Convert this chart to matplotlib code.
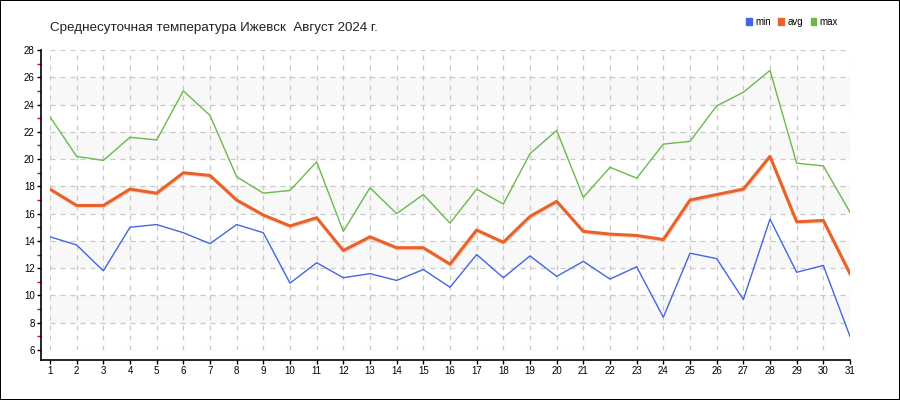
import matplotlib.pyplot as plt
from matplotlib.patches import Patch
import matplotlib.patheffects as pe

days = list(range(1, 32))
t_min = [14.3, 13.7, 11.8, 15.0, 15.2, 14.6, 13.8, 15.2, 14.6, 10.9,
         12.4, 11.3, 11.6, 11.1, 11.9, 10.6, 13.0, 11.3, 12.9, 11.4,
         12.5, 11.2, 12.1, 8.4, 13.1, 12.7, 9.7, 15.6, 11.7, 12.2, 7.0]
t_avg = [17.8, 16.6, 16.6, 17.8, 17.5, 19.0, 18.8, 17.0, 15.9, 15.1,
         15.7, 13.3, 14.3, 13.5, 13.5, 12.3, 14.8, 13.9, 15.8, 16.9,
         14.7, 14.5, 14.4, 14.1, 17.0, 17.4, 17.8, 20.2, 15.4, 15.5, 11.6]
t_max = [23.1, 20.2, 19.9, 21.6, 21.4, 25.0, 23.2, 18.7, 17.5, 17.7,
         19.8, 14.7, 17.9, 16.0, 17.4, 15.3, 17.8, 16.7, 20.4, 22.1,
         17.2, 19.4, 18.6, 21.1, 21.3, 23.9, 24.9, 26.5, 19.7, 19.5, 16.1]
y_ticks = list(range(6, 29, 2))
bands = [(8, 10), (12, 14), (16, 18), (20, 22), (24, 26)]

title = 'Среднесуточная температура Ижевск  Август 2024 г.'
c_min, c_avg, c_max = '#4466e0', '#e8622a', '#6cb94a'

plt.rcParams['font.family'] = ['Liberation Sans', 'DejaVu Sans']

fig = plt.figure(figsize=(9, 4), dpi=100)
fig.patch.set_edgecolor('black')
fig.patch.set_linewidth(1.2)
ax = fig.add_axes([50 / 900, 50 / 400, 800 / 900, 300 / 400])

for lo, hi in bands:
    ax.axhspan(lo, hi, color='#f8f8f8', zorder=0, lw=0)

ax.plot(days, t_max, color=c_max, lw=1, zorder=3)
ax.plot(days, t_avg, color=c_avg, lw=2.2, zorder=4,
        path_effects=[pe.SimpleLineShadow(offset=(0.5, -0.8), shadow_color='#f3b9a0', alpha=0.6),
                      pe.Normal()])
ax.plot(days, t_min, color=c_min, lw=1, zorder=3)

ax.set_xlim(1, 31)
ax.set_ylim(6, 28)
ax.set_xticks(days)
ax.set_yticks(y_ticks)
ax.set_yticks(list(range(7, 28, 2)), minor=True)
ax.grid(True, color='#c8c8c8', linestyle=(0, (4, 4)), lw=0.9)
ax.set_axisbelow(True)

for s in ['top', 'right']:
    ax.spines[s].set_visible(False)
ax.spines['left'].set_position(('outward', 6.5))
ax.spines['bottom'].set_position(('outward', 7.2))
ax.spines['left'].set_bounds(5.27, 28)
ax.spines['bottom'].set_bounds(0.66, 31)
ax.spines['left'].set_linewidth(1.2)
ax.spines['bottom'].set_linewidth(1.2)

ax.tick_params(axis='both', which='major', direction='out', length=3, width=1,
               labelsize=7, pad=1.5, color='black')
ax.tick_params(axis='y', which='minor', direction='out', length=3, width=1, color='#e00000')

fig.text(50 / 900, 1 - 28 / 400, title, fontsize=9.6, color='#222222', va='center')

handles = [Patch(color=c_min, label='min'), Patch(color=c_avg, label='avg'),
           Patch(color=c_max, label='max')]
fig.legend(handles=handles, loc='center', bbox_to_anchor=(792 / 900, 1 - 22 / 400),
           ncol=3, frameon=False, fontsize=7, handlelength=0.6, handleheight=0.6,
           handletextpad=0.3, columnspacing=0.8)

fig.savefig('out.png', dpi=100)
